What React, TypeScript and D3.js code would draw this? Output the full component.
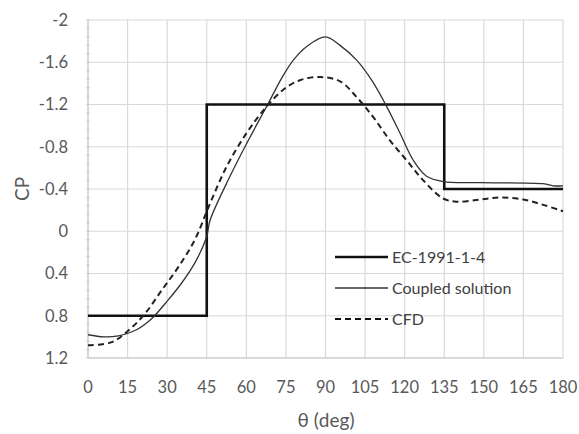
import React from "react";
import * as d3 from "d3";

const xTicks = [0, 15, 30, 45, 60, 75, 90, 105, 120, 135, 150, 165, 180];
const yTicks = [-2, -1.6, -1.2, -0.8, -0.4, 0, 0.4, 0.8, 1.2];

const ecDeg = [0, 45, 45, 135, 135, 180];
const ecCp = [0.8, 0.8, -1.2, -1.2, -0.4, -0.4];

const coupledDeg = [0, 6, 11.5, 17.8, 24, 30.4, 35.5, 40.5, 45, 46.2, 53.8, 60.1, 68.3, 73.4, 77.8, 82.9, 90, 95.5, 101.8, 107.5, 113.2, 118.2, 123.3, 128.3, 134.6, 148.5, 172.5, 176.3, 180];
const coupledCp = [0.98, 1.0, 0.99, 0.94, 0.83, 0.65, 0.49, 0.3, 0.05, -0.1, -0.52, -0.83, -1.21, -1.45, -1.62, -1.75, -1.84, -1.76, -1.62, -1.43, -1.18, -0.93, -0.67, -0.52, -0.47, -0.46, -0.45, -0.43, -0.43];

const cfdDeg = [0, 9, 15.3, 21.6, 27.9, 34.2, 40.5, 46.2, 52.5, 60.1, 67, 74, 80.3, 87.9, 95.5, 101.8, 108.1, 114.4, 120.8, 127.1, 134.6, 139.7, 148.5, 156.1, 165, 172.5, 180];
const cfdCp = [1.08, 1.05, 0.94, 0.78, 0.56, 0.34, 0.08, -0.26, -0.61, -0.93, -1.16, -1.34, -1.43, -1.46, -1.42, -1.27, -1.08, -0.86, -0.67, -0.48, -0.31, -0.28, -0.3, -0.32, -0.3, -0.25, -0.19];

const legendLabels = ["EC-1991-1-4", "Coupled solution", "CFD"];

const W = 579, H = 434;
const M = { left: 88, right: 16, top: 20, bottom: 76 };

const fmtY = (t: number) => (t === 0 ? "0" : Number.isInteger(t) ? String(t) : t.toFixed(1));

export default function App() {
  const x = d3.scaleLinear().domain([0, 180]).range([M.left, W - M.right]);
  const y = d3.scaleLinear().domain([-2, 1.2]).range([M.top, H - M.bottom]);
  const font = "Lato, 'Open Sans', sans-serif";

  const stepLine = d3.line<number>().x((_, i) => x(ecDeg[i])).y((d) => y(d));
  const smooth = (degs: number[]) =>
    d3.line<number>().x((_, i) => x(degs[i])).y((d) => y(d)).curve(d3.curveCatmullRom.alpha(0.5));

  const minor = d3.range(-2, 1.2001, 0.08);

  return (
    <svg width={W} height={H} style={{ position: "absolute", left: 0, top: 0, background: "#fff" }}>
      <g>
        {xTicks.map((t) => (
          <line key={"gx" + t} x1={x(t)} x2={x(t)} y1={y(-2)} y2={y(1.2)} stroke="#d9d9d9" strokeWidth={1.2} />
        ))}
        {yTicks.map((t) => (
          <line key={"gy" + t} x1={x(0)} x2={x(180)} y1={y(t)} y2={y(t)} stroke="#d9d9d9" strokeWidth={1.2} />
        ))}
        <line x1={x(0)} x2={x(0)} y1={y(-2)} y2={y(1.2)} stroke="#c8c8c8" strokeWidth={1} />
        <line x1={x(0)} x2={x(180)} y1={y(1.2)} y2={y(1.2)} stroke="#c8c8c8" strokeWidth={1} />
        {minor.map((t, i) => (
          <line key={"mt" + i} x1={x(0) - 2} x2={x(0) + 2} y1={y(t)} y2={y(t)} stroke="#d0d0d0" strokeWidth={1} />
        ))}
      </g>
      <g fill="#595959" fontFamily={font} fontSize={16.5}>
        {yTicks.map((t) => (
          <text key={"ly" + t} x={x(0) - 20} y={y(t)} dy="0.35em" textAnchor="end">
            {fmtY(t)}
          </text>
        ))}
        {xTicks.map((t) => (
          <text key={"lx" + t} x={x(t)} y={y(1.2) + 29} dy="0.35em" textAnchor="middle">
            {t}
          </text>
        ))}
        <text x={326} y={420} fontSize={19} textAnchor="middle" dy="0.35em">θ (deg)</text>
        <text transform={`translate(22,${y(-0.4)}) rotate(-90)`} fontSize={19} textAnchor="middle" dy="0.35em">CP</text>
      </g>
      <path d={stepLine(ecCp) ?? ""} fill="none" stroke="#111" strokeWidth={2.6} />
      <path d={smooth(coupledDeg)(coupledCp) ?? ""} fill="none" stroke="#333" strokeWidth={1.3} />
      <path d={smooth(cfdDeg)(cfdCp) ?? ""} fill="none" stroke="#222" strokeWidth={2} strokeDasharray="6,4" />
      <g fontFamily={font} fontSize={16} fill="#404040">
        {legendLabels.map((l, i) => {
          const ly = 257 + i * 31;
          return (
            <g key={l}>
              <line x1={335} x2={388} y1={ly} y2={ly}
                stroke={i === 1 ? "#333" : "#111"}
                strokeWidth={i === 0 ? 2.6 : i === 1 ? 1.3 : 2}
                strokeDasharray={i === 2 ? "6,4" : undefined} />
              <text x={392} y={ly} dy="0.35em">{l}</text>
            </g>
          );
        })}
      </g>
    </svg>
  );
}
